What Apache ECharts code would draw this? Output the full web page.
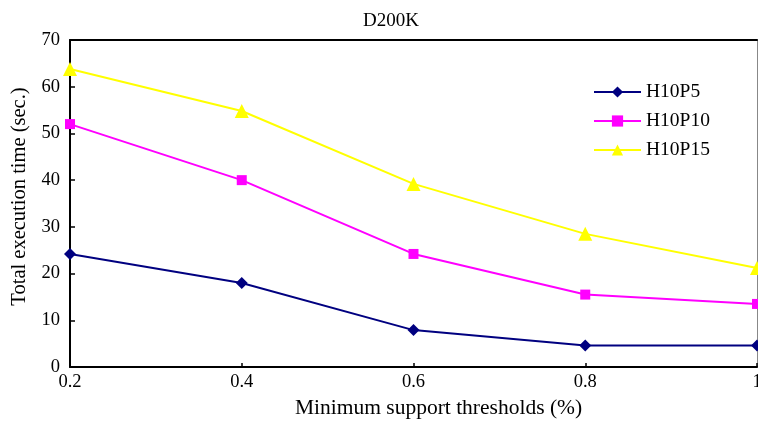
<!DOCTYPE html>
<html><head><meta charset="utf-8">
<script src="https://cdn.jsdelivr.net/npm/echarts@6/dist/echarts.min.js"></script>
<style>html,body{margin:0;padding:0;background:#fff}#c{width:758px;height:421px}</style>
</head><body><div id="c"></div>
<script>
const categories = ['0.2','0.4','0.6','0.8','1'];
const h10p5 = [24.2, 18.0, 7.9, 4.6, 4.6];
const h10p10 = [52.0, 40.0, 24.2, 15.5, 13.5];
const h10p15 = [63.8, 54.8, 39.2, 28.5, 21.2];
const yTicks = {min: 0, max: 70, interval: 10};

const font = 'Liberation Serif, Times New Roman, serif';
const chart = echarts.init(document.getElementById('c'));
function ser(name, data, color, symbol, size) {
  return {name, type:'line', data, symbol, symbolSize:size, showSymbol:true,
    lineStyle:{color, width:2}, itemStyle:{color}, animation:false, z:3};
}
chart.setOption({
  animation:false,
  title:{text:'D200K', left:386, top:7, textAlign:'center',
    textStyle:{fontFamily:font, fontWeight:'normal', fontSize:19, color:'#000'}},
  grid:{left:70, right:1, top:40, bottom:54, containLabel:false, outerBoundsMode:'none'},
  legend:{orient:'vertical', left:588, top:77, itemGap:9, itemWidth:47, itemHeight:14,
    textStyle:{fontFamily:font, fontSize:19.5, color:'#000'},
    data:['H10P5','H10P10','H10P15']},
  xAxis:[{type:'category', data:categories, boundaryGap:false,
    name:'Minimum support thresholds (%)', nameLocation:'middle', nameGap:30,
    nameTextStyle:{fontFamily:font, fontSize:21.5, color:'#000', padding:[0,0,0,50]},
    axisLine:{lineStyle:{color:'#000', width:2}},
    axisTick:{show:true, inside:true, length:4, lineStyle:{color:'#000', width:1.5}},
    axisLabel:{fontFamily:font, fontSize:18.5, color:'#000', margin:6}, splitLine:{show:false}},
    {type:'category', data:categories, boundaryGap:false, position:'top',
    axisLine:{onZero:false, lineStyle:{color:'#000', width:2}}, axisTick:{show:false}, axisLabel:{show:false}}],
  yAxis:[{type:'value', min:yTicks.min, max:yTicks.max, interval:yTicks.interval,
    name:'Total execution time (sec.)', nameLocation:'middle', nameGap:36,
    nameTextStyle:{fontFamily:font, fontSize:20.5, color:'#000', padding:[0,0,0,14]},
    axisLine:{show:true, onZero:false, lineStyle:{color:'#000', width:2}},
    axisTick:{show:true, inside:true, length:5, lineStyle:{color:'#000', width:1.5}},
    axisLabel:{fontFamily:font, fontSize:18.5, color:'#000', margin:10}, splitLine:{show:false}},
    {type:'value', min:yTicks.min, max:yTicks.max, position:'right',
    axisLine:{show:true, onZero:false, lineStyle:{color:'#888', width:1}}, axisTick:{show:false},
    axisLabel:{show:false}, splitLine:{show:false}}],
  series:[
    ser('H10P5', h10p5, '#000080', 'diamond', 12),
    ser('H10P10', h10p10, '#FF00FF', 'rect', 10),
    ser('H10P15', h10p15, '#FFFF00', 'triangle', 14)
  ]
});
</script></body></html>
